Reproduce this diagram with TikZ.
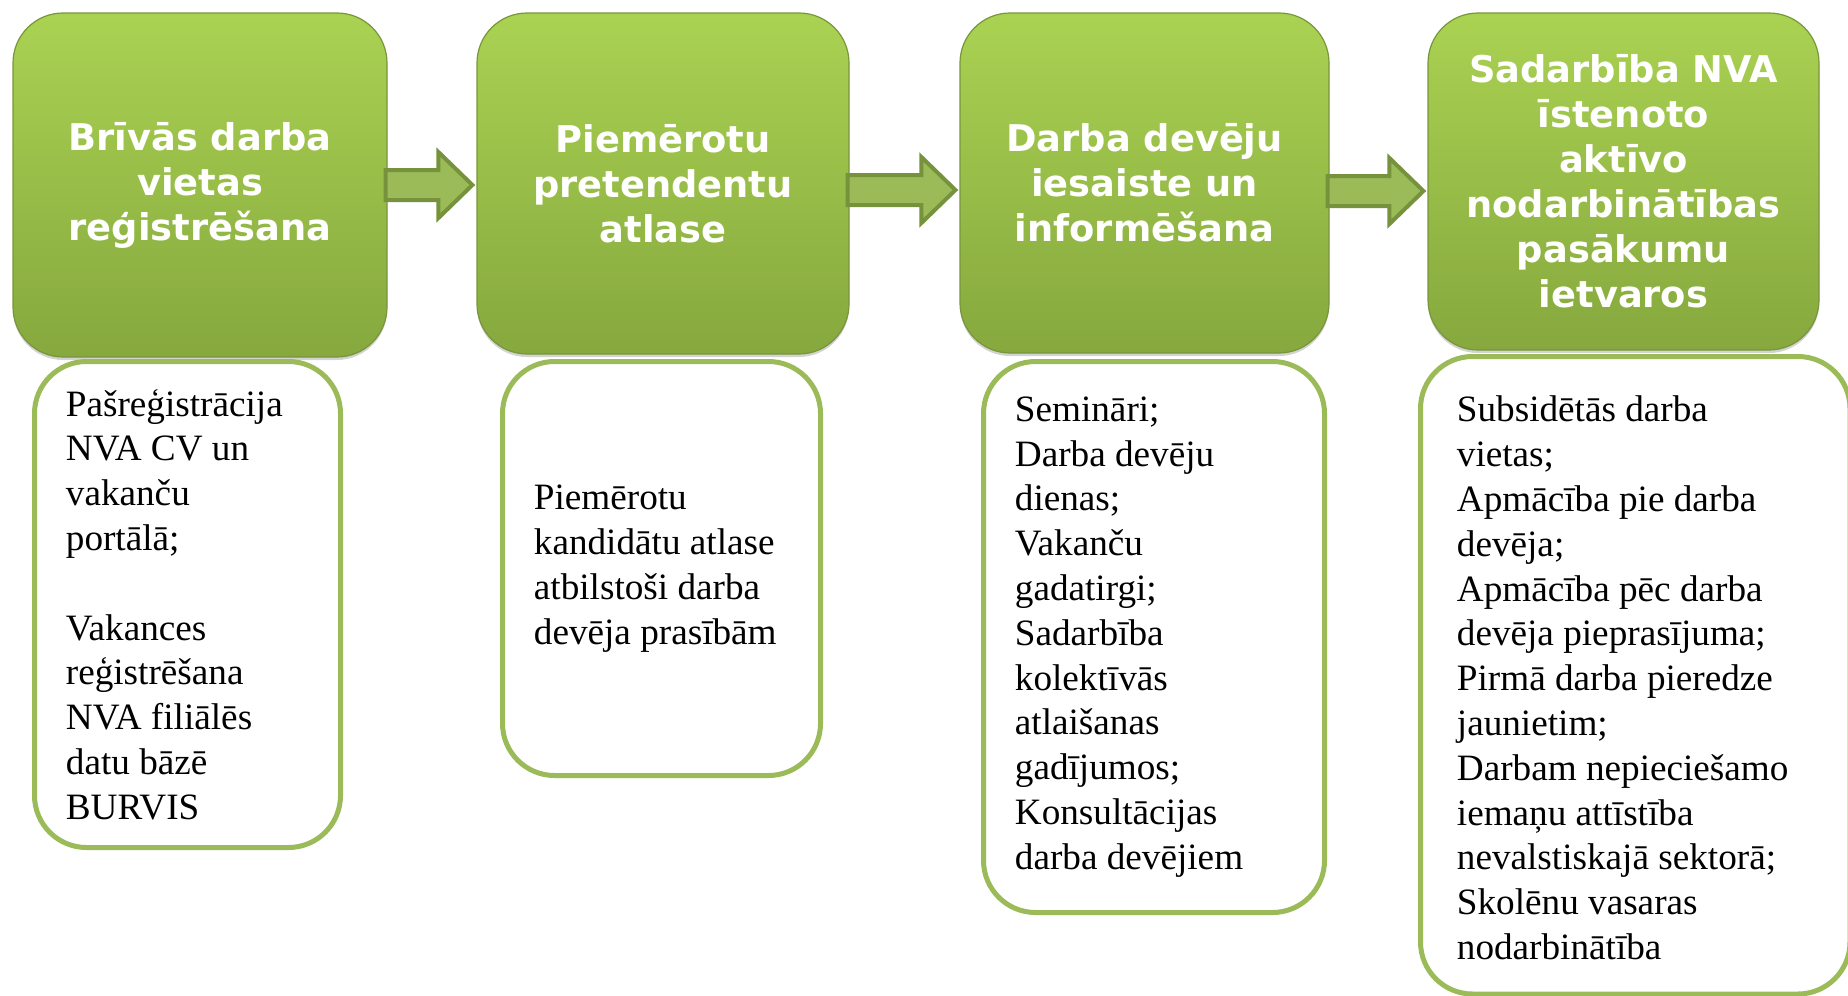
\documentclass[tikz,border=0pt]{standalone}
\usepackage{fontspec}
\setmainfont{Liberation Serif}
\newfontfamily\headfont{DejaVu Sans}
\usetikzlibrary{calc,shadows}
\definecolor{gtop}{RGB}{170,210,82}
\definecolor{gbot}{RGB}{134,168,62}
\definecolor{gedge}{RGB}{120,150,58}
\definecolor{afill}{RGB}{155,187,89}
\definecolor{aedge}{RGB}{118,146,60}
\definecolor{wedge}{RGB}{155,187,89}
\newcommand\blkarrow[3]{%
  \draw[blockarrow] let \p1=($(#1.east)+(-2,#3)$), \p2=($(#2.west)+(-4,#3)$) in
    (\x1,\y1-7.5pt) -- (\x2-17pt,\y1-7.5pt) -- (\x2-17pt,\y1-16.5pt) -- (\x2,\y1)
    -- (\x2-17pt,\y1+16.5pt) -- (\x2-17pt,\y1+7.5pt) -- (\x1,\y1+7.5pt) -- cycle;}
\begin{document}
\begin{tikzpicture}[x=0.5pt,y=-0.5pt,
  greenbox/.style={rounded corners=25pt, top color=gtop, bottom color=gbot,
    draw=gedge, line width=0.6pt, text=white, align=center, inner sep=0pt,
    font={\headfont\bfseries\fontsize{18.4}{22.5}\selectfont},
    drop shadow={shadow xshift=0pt, shadow yshift=-1.5pt, opacity=0.35}},
  whitebox/.style={rounded corners=26pt, draw=wedge, line width=2.5pt, fill=white, inner sep=0pt},
  bodytext/.style={anchor=west, align=left, inner sep=0pt,
    font={\fontsize{18.6}{22.4}\selectfont}},
  blockarrow/.style={fill=afill, draw=aedge, line width=2pt, line join=miter}]
\useasboundingbox (0,0) rectangle (1848,996);

% green heading boxes
\node[greenbox, minimum width=187pt, minimum height=172pt] (g1) at (200,185)
  {Brīvās darba\\vietas\\reģistrēšana};
\node[greenbox, minimum width=186pt, minimum height=170.5pt] (g2) at (663,183.5)
  {Piemērotu\\pretendentu\\atlase};
\node[greenbox, minimum width=184.5pt, minimum height=170pt] (g3) at (1144.5,183)
  {Darba devēju\\iesaiste un\\informēšana};
\node[greenbox, minimum width=195.5pt, minimum height=168.5pt] (g4) at (1623.5,181.5)
  {Sadarbība NVA\\īstenoto\\aktīvo\\nodarbinātības\\pasākumu\\ietvaros};

% block arrows
\blkarrow{g1}{g2}{0}
\blkarrow{g2}{g3}{6.5}
\blkarrow{g3}{g4}{8}

% white content boxes
\node[whitebox, minimum width=153pt, minimum height=243pt] (w1) at (187.5,604.5) {};
\node[whitebox, minimum width=159pt, minimum height=207pt] (w2) at (661.5,568.5) {};
\node[whitebox, minimum width=170.5pt, minimum height=275.5pt] (w3) at (1154,637) {};
\node[whitebox, minimum width=214.75pt, minimum height=318.75pt] (w4) at (1635.25,675.25) {};

\node[bodytext] (t1) at ($(w1.west)+(33.5,0)$)
  {Pašreģistrācija\\NVA CV un\\vakanču\\portālā;\\[22.4pt]Vakances\\reģistrēšana\\NVA filiālēs\\datu bāzē\\BURVIS};
\node[bodytext] (t2) at ($(w2.west)+(33.5,0)$)
  {Piemērotu\\kandidātu atlase\\atbilstoši darba\\devēja prasībām};
\node[bodytext] (t3) at ($(w3.west)+(33.5,0)$)
  {Semināri;\\Darba devēju\\dienas;\\Vakanču\\gadatirgi;\\Sadarbība\\kolektīvās\\atlaišanas\\gadījumos;\\Konsultācijas\\darba devējiem};
\node[bodytext] (t4) at ($(w4.west)+(38.5,2.75)$)
  {Subsidētās darba\\vietas;\\Apmācība pie darba\\devēja;\\Apmācība pēc darba\\devēja pieprasījuma;\\Pirmā darba pieredze\\jaunietim;\\Darbam nepieciešamo\\iemaņu attīstība\\nevalstiskajā sektorā;\\Skolēnu vasaras\\nodarbinātība};
\end{tikzpicture}
\end{document}
